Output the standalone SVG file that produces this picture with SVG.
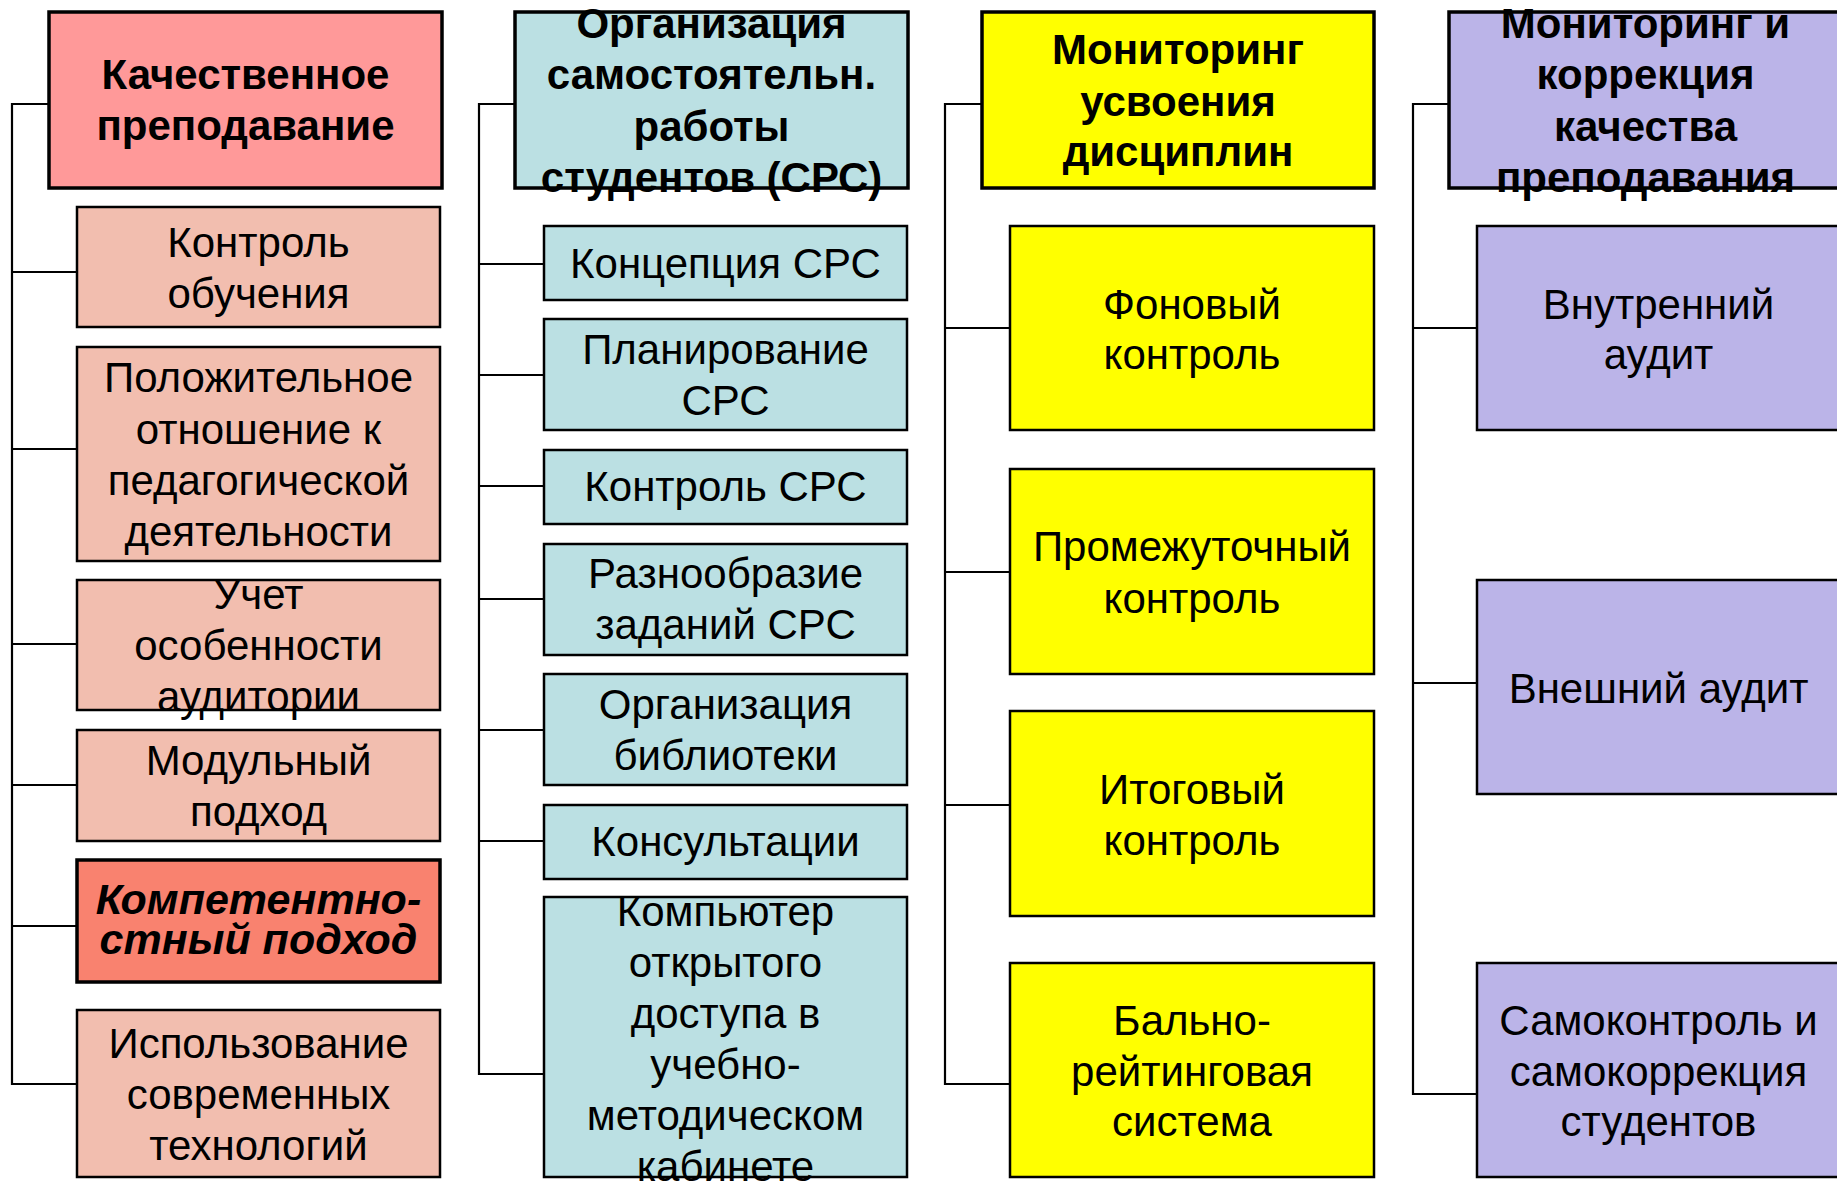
<svg xmlns="http://www.w3.org/2000/svg" width="1837" height="1182" viewBox="0 0 1837 1182">
<style>
.t{font-family:"Liberation Sans",Arial,sans-serif;font-size:42px;fill:#000;text-anchor:middle}
.b{font-weight:bold}
.bi{font-weight:bold;font-style:italic;font-size:43px}
.hd{stroke:#000;stroke-width:3.5}
.ch{stroke:#000;stroke-width:2.5}
.c1h{fill:#FF9999}.c1{fill:#F2BEAF}.c1k{fill:#F9826F}
.c2{fill:#BBE0E3}.c3{fill:#FFFF00}.c4{fill:#BBB4E8}
.con{stroke:#000;stroke-width:2.2;fill:none}
</style>
<rect width="1837" height="1182" fill="#fff"/>
<g id="connectors">
<path class="con" d="M49 104H12V1084H77M12 272H77M12 449H77M12 644H77M12 785H77M12 926H77"/>
<path class="con" d="M515 104H479V1074H544M479 264H544M479 375H544M479 486H544M479 599H544M479 730H544M479 841H544"/>
<path class="con" d="M982 104H945V1084H1010M945 328H1010M945 572H1010M945 805H1010"/>
<path class="con" d="M1449 104H1413V1094H1477M1413 328H1477M1413 683H1477"/>
</g>
<g id="n1h"><rect class="hd c1h" x="49" y="12" width="393" height="176"/><text class="t b" x="245.5" y="89">Качественное</text><text class="t b" x="245.5" y="140">преподавание</text></g>
<g id="n1a"><rect class="ch c1" x="77" y="207" width="363" height="120"/><text class="t" x="258.5" y="257">Контроль</text><text class="t" x="258.5" y="308">обучения</text></g>
<g id="n1b"><rect class="ch c1" x="77" y="347" width="363" height="214"/><text class="t" x="258.5" y="392">Положительное</text><text class="t" x="258.5" y="443.5">отношение к</text><text class="t" x="258.5" y="494.5">педагогической</text><text class="t" x="258.5" y="545.5">деятельности</text></g>
<g id="n1c"><rect class="ch c1" x="77" y="580" width="363" height="130"/><text class="t" x="258.5" y="609">Учет</text><text class="t" x="258.5" y="660">особенности</text><text class="t" x="258.5" y="711">аудитории</text></g>
<g id="n1d"><rect class="ch c1" x="77" y="730" width="363" height="111"/><text class="t" x="258.5" y="775">Модульный</text><text class="t" x="258.5" y="826">подход</text></g>
<g id="n1e"><rect class="hd c1k" x="77" y="860" width="363" height="122" stroke-width="4"/><text class="t bi" x="258.5" y="914">Компетентно-</text><text class="t bi" x="258.5" y="954">стный подход</text></g>
<g id="n1f"><rect class="ch c1" x="77" y="1010" width="363" height="167"/><text class="t" x="258.5" y="1058">Использование</text><text class="t" x="258.5" y="1109">современных</text><text class="t" x="258.5" y="1160">технологий</text></g>
<g id="n2h"><rect class="hd c2" x="515" y="12" width="393" height="176"/><text class="t b" x="711.5" y="37.5">Организация</text><text class="t b" x="711.5" y="89">самостоятельн.</text><text class="t b" x="711.5" y="140.5">работы</text><text class="t b" x="711.5" y="192">студентов (СРС)</text></g>
<g id="n2a"><rect class="ch c2" x="544" y="226" width="363" height="74"/><text class="t" x="725.5" y="277.5">Концепция СРС</text></g>
<g id="n2b"><rect class="ch c2" x="544" y="319" width="363" height="111"/><text class="t" x="725.5" y="364">Планирование</text><text class="t" x="725.5" y="414.5">СРС</text></g>
<g id="n2c"><rect class="ch c2" x="544" y="450" width="363" height="74"/><text class="t" x="725.5" y="500.5">Контроль СРС</text></g>
<g id="n2d"><rect class="ch c2" x="544" y="544" width="363" height="111"/><text class="t" x="725.5" y="588">Разнообразие</text><text class="t" x="725.5" y="639">заданий СРС</text></g>
<g id="n2e"><rect class="ch c2" x="544" y="674" width="363" height="111"/><text class="t" x="725.5" y="718.5">Организация</text><text class="t" x="725.5" y="770">библиотеки</text></g>
<g id="n2f"><rect class="ch c2" x="544" y="805" width="363" height="74"/><text class="t" x="725.5" y="856">Консультации</text></g>
<g id="n2g"><rect class="ch c2" x="544" y="897" width="363" height="280"/><text class="t" x="725.5" y="925.5">Компьютер</text><text class="t" x="725.5" y="976.5">открытого</text><text class="t" x="725.5" y="1027.5">доступа в</text><text class="t" x="725.5" y="1078.5">учебно-</text><text class="t" x="725.5" y="1129.5">методическом</text><text class="t" x="725.5" y="1181">кабинете</text></g>
<g id="n3h"><rect class="hd c3" x="982" y="12" width="392" height="176"/><text class="t b" x="1178" y="64">Мониторинг</text><text class="t b" x="1178" y="115.5">усвоения</text><text class="t b" x="1178" y="166">дисциплин</text></g>
<g id="n3a"><rect class="ch c3" x="1010" y="226" width="364" height="204"/><text class="t" x="1192" y="318.5">Фоновый</text><text class="t" x="1192" y="369">контроль</text></g>
<g id="n3b"><rect class="ch c3" x="1010" y="469" width="364" height="205"/><text class="t" x="1192" y="561">Промежуточный</text><text class="t" x="1192" y="612.5">контроль</text></g>
<g id="n3c"><rect class="ch c3" x="1010" y="711" width="364" height="205"/><text class="t" x="1192" y="803.5">Итоговый</text><text class="t" x="1192" y="855">контроль</text></g>
<g id="n3d"><rect class="ch c3" x="1010" y="963" width="364" height="214"/><text class="t" x="1192" y="1034.5">Бально-</text><text class="t" x="1192" y="1086">рейтинговая</text><text class="t" x="1192" y="1136">система</text></g>
<g id="n4h"><rect class="hd c4" x="1449" y="12" width="393" height="176"/><text class="t b" x="1645.5" y="37.5">Мониторинг и</text><text class="t b" x="1645.5" y="89">коррекция</text><text class="t b" x="1645.5" y="140.5">качества</text><text class="t b" x="1645.5" y="192">преподавания</text></g>
<g id="n4a"><rect class="ch c4" x="1477" y="226" width="363" height="204"/><text class="t" x="1658.5" y="318.5">Внутренний</text><text class="t" x="1658.5" y="369">аудит</text></g>
<g id="n4b"><rect class="ch c4" x="1477" y="580" width="363" height="214"/><text class="t" x="1658.5" y="703">Внешний аудит</text></g>
<g id="n4c"><rect class="ch c4" x="1477" y="963" width="363" height="214"/><text class="t" x="1658.5" y="1034.5">Самоконтроль и</text><text class="t" x="1658.5" y="1086">самокоррекция</text><text class="t" x="1658.5" y="1136">студентов</text></g>
</svg>
